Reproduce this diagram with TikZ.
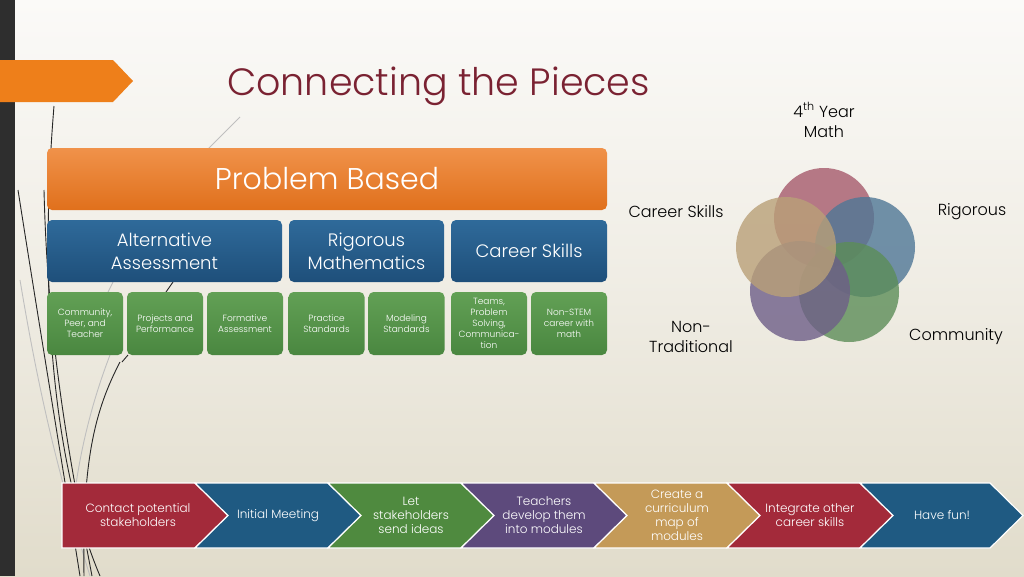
\documentclass[tikz,border=0pt]{standalone}
\usepackage{fontspec}
\setmainfont{Poppins}[UprightFont=* Light]
\definecolor{bgtop}{HTML}{FBFAF8}
\definecolor{bgbot}{HTML}{E1DCCB}
\definecolor{darkbar}{HTML}{2E2E2E}
\definecolor{tabor}{HTML}{EE7F1A}
\definecolor{titlered}{HTML}{7A2232}
\definecolor{orTop}{HTML}{F0924A}
\definecolor{orBot}{HTML}{E0701C}
\definecolor{blTop}{HTML}{2F6A9A}
\definecolor{blBot}{HTML}{1E4F7A}
\definecolor{grTop}{HTML}{62A055}
\definecolor{grBot}{HTML}{4A8740}
\definecolor{vPink}{HTML}{A65A6C}
\definecolor{vBlue}{HTML}{4F7796}
\definecolor{vGreen}{HTML}{5C8D58}
\definecolor{vPurple}{HTML}{6E5E88}
\definecolor{vTan}{HTML}{B9A078}
\definecolor{cRed}{HTML}{A32A3A}
\definecolor{cBlue}{HTML}{1F5A82}
\definecolor{cGreen}{HTML}{4F8A3F}
\definecolor{cPurple}{HTML}{5D4A7C}
\definecolor{cTan}{HTML}{C49A58}
\tikzset{
  topbox/.style={shade, top color=orTop, bottom color=orBot, rounded corners=5pt, minimum width=560pt, minimum height=62pt, text=white, font=\fontsize{30}{34}\selectfont, inner sep=0pt},
  midbox/.style={shade, top color=blTop, bottom color=blBot, rounded corners=5pt, minimum height=62pt, text=white, align=center, font=\fontsize{18}{23}\selectfont, inner sep=0pt},
  lowbox/.style={shade, top color=grTop, bottom color=grBot, rounded corners=5pt, minimum width=76pt, minimum height=63pt, text=white, align=center, font=\fontsize{9}{11}\selectfont, inner sep=0pt},
  venn/.style={circle, minimum size=100pt, fill opacity=0.8, inner sep=0pt},
  vlabel/.style={text=black, align=center, font=\fontsize{16}{20}\selectfont, inner sep=0pt},
  chev/.style={draw=white, line width=1.2pt},
  chevtext/.style={text=white, align=center, font=\fontsize{12}{14}\selectfont, inner sep=0pt},
  deco/.style={line width=0.9pt, black!85},
  decog/.style={line width=0.9pt, black!25},
}
\begin{document}
\begin{tikzpicture}[x=1pt,y=-1pt]
\useasboundingbox (0,0) rectangle (1024,576);
% background
\shade[top color=bgtop, bottom color=bgbot, middle color=bgtop!55!bgbot] (0,0) rectangle (1024,576);
\fill[darkbar] (0,0) rectangle (15,576);
\fill[tabor] (0,60) -- (113,60) -- (133,81) -- (113,102) -- (0,102) -- cycle;
% decorative lines
\draw[decog] (240,117) -- (205,152);
\draw[decog] (113,282) -- (104,300);
\draw[decog] (20,280) .. controls (40,400) and (60,480) .. (90,576);
\draw[decog] (110,355) .. controls (85,420) and (75,480) .. (72,520);
\draw[deco] (54,106) .. controls (38,300) and (55,470) .. (100,576);
\draw[deco] (44,190) .. controls (48,350) and (70,460) .. (92,576);
\draw[deco] (18,190) .. controls (40,330) and (60,450) .. (80,576);
\draw[deco] (120,362) .. controls (95,410) and (82,460) .. (84,576);
\draw[deco] (173,282) -- (166,292);
\draw[deco] (128,355) -- (122,362);
% title
\node[anchor=base west, text=titlered, font=\fontsize{38}{44}\selectfont, inner sep=0pt] (title) at (227,95) {Connecting the Pieces};
% hierarchy
\node[topbox] (pb) at (327,179) {Problem Based};
\node[midbox, minimum width=235pt] (aa) at (164.5,251) {Alternative\\Assessment};
\node[midbox, minimum width=155pt] (rm) at (366.5,251) {Rigorous\\Mathematics};
\node[midbox, minimum width=156pt] (cs) at (529,251) {Career Skills};
\node[lowbox] (g1) at (85,323.5) {Community,\\Peer, and\\Teacher};
\node[lowbox] (g2) at (165,323.5) {Projects and\\Performance};
\node[lowbox] (g3) at (245,323.5) {Formative\\Assessment};
\node[lowbox] (g4) at (326.5,323.5) {Practice\\Standards};
\node[lowbox] (g5) at (406.5,323.5) {Modeling\\Standards};
\node[lowbox] (g6) at (489,323.5) {Teams,\\Problem\\Solving,\\Communica-\\tion};
\node[lowbox] (g7) at (569,323.5) {Non-STEM\\career with\\math};
% venn
\node[venn, fill=vPink] (v1) at (824,218) {};
\node[venn, fill=vBlue] (v2) at (865,247) {};
\node[venn, fill=vGreen] (v3) at (849,292) {};
\node[venn, fill=vPurple] (v4) at (800,291) {};
\node[venn, fill=vTan] (v5) at (786,247) {};
\node[vlabel] (l1) at (824,120) {4\textsuperscript{th} Year\\Math};
\node[vlabel] (l2) at (676,212) {Career Skills};
\node[vlabel] (l3) at (972,212) {Rigorous};
\node[vlabel] (l4) at (691,337) {Non-\\Traditional};
\node[vlabel] (l5) at (956,337) {Community};
% process chevrons
\path[chev, fill=cRed] (62,483) -- (195,483) -- (228,515.5) -- (195,548) -- (62,548) -- cycle;
\path[chev, fill=cBlue] (195,483) -- (328,483) -- (361,515.5) -- (328,548) -- (195,548) -- (228,515.5) -- cycle;
\path[chev, fill=cGreen] (328,483) -- (461,483) -- (494,515.5) -- (461,548) -- (328,548) -- (361,515.5) -- cycle;
\path[chev, fill=cPurple] (461,483) -- (594,483) -- (627,515.5) -- (594,548) -- (461,548) -- (494,515.5) -- cycle;
\path[chev, fill=cTan] (594,483) -- (727,483) -- (760,515.5) -- (727,548) -- (594,548) -- (627,515.5) -- cycle;
\path[chev, fill=cRed] (727,483) -- (860,483) -- (893,515.5) -- (860,548) -- (727,548) -- (760,515.5) -- cycle;
\path[chev, fill=cBlue] (860,483) -- (990,483) -- (1023,515.5) -- (990,548) -- (860,548) -- (893,515.5) -- cycle;
\node[chevtext] (p1) at (138,515.5) {Contact potential\\stakeholders};
\node[chevtext] (p2) at (278,515.5) {Initial Meeting};
\node[chevtext] (p3) at (411,515.5) {Let\\stakeholders\\send ideas};
\node[chevtext] (p4) at (544,515.5) {Teachers\\develop them\\into modules};
\node[chevtext] (p5) at (677,515.5) {Create a\\curriculum\\map of\\modules};
\node[chevtext] (p6) at (810,515.5) {Integrate other\\career skills};
\node[chevtext] (p7) at (942,515.5) {Have fun!};
\end{tikzpicture}
\end{document}
